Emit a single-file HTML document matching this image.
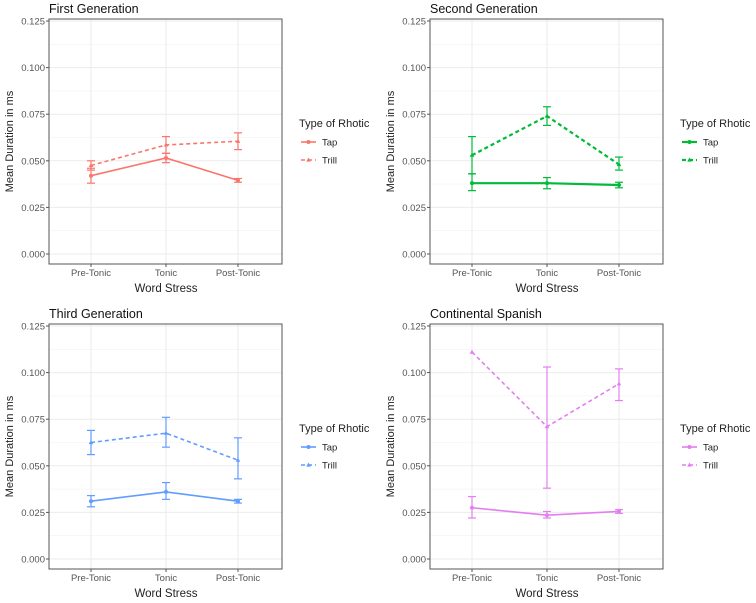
<!DOCTYPE html>
<html><head><meta charset="utf-8"><style>
body{margin:0;background:#fff;width:756px;height:598px;overflow:hidden}
svg{font-family:"Liberation Sans",sans-serif}
</style></head><body>
<svg id="s" width="756" height="598" xmlns="http://www.w3.org/2000/svg"></svg>
<script>
const panels=[
 {x:49,y:0,title:"First Generation",c:"#F8766D",w:1.6,
  tap:[[.042,.038,.046],[.0515,.049,.054],[.0395,.0385,.0405]],
  trill:[[.0475,.045,.050],[.0585,.054,.063],[.0605,.056,.065]]},
 {x:430,y:0,title:"Second Generation",c:"#00BA38",w:2.2,
  tap:[[.038,.034,.043],[.038,.035,.041],[.037,.0355,.0385]],
  trill:[[.053,.043,.063],[.074,.069,.079],[.048,.045,.052]]},
 {x:49,y:305,title:"Third Generation",c:"#619CFF",w:1.6,
  tap:[[.031,.028,.034],[.036,.032,.041],[.031,.030,.032]],
  trill:[[.0625,.056,.069],[.0675,.060,.076],[.053,.043,.065]]},
 {x:430,y:305,title:"Continental Spanish",c:"#E37EF0",w:1.6,
  tap:[[.0275,.022,.0335],[.0235,.022,.0255],[.0255,.0245,.0265]],
  trill:[[.111,.111,.111],[.071,.038,.103],[.094,.085,.102]]}
];
let h="";
for(const p of panels){
 const L=p.x,R=p.x+233,T=p.y+19,B=p.y+264;
 const Y=v=>p.y+254-v/0.125*233;
 const X=[L+42,L+117,L+189];
 // grid
 for(let i=0;i<5;i++){const yy=Y(i*0.025+0.0125);h+=`<line x1="${L}" x2="${R}" y1="${yy}" y2="${yy}" stroke="#f2f2f2" stroke-width="0.6"/>`;}
 for(let i=0;i<6;i++){const yy=Y(i*0.025);h+=`<line x1="${L}" x2="${R}" y1="${yy}" y2="${yy}" stroke="#ebebeb" stroke-width="1"/>`;
  h+=`<text x="${L-4}" y="${yy+3.5}" font-size="9.5" fill="#555" text-anchor="end">${(i*0.025).toFixed(3)}</text>`;
  h+=`<line x1="${L-3}" x2="${L}" y1="${yy}" y2="${yy}" stroke="#555"/>`;}
 const labs=["Pre-Tonic","Tonic","Post-Tonic"];
 X.forEach((xx,i)=>{h+=`<line x1="${xx}" x2="${xx}" y1="${T}" y2="${B}" stroke="#ebebeb"/>`;
  h+=`<line x1="${xx}" x2="${xx}" y1="${B}" y2="${B+3}" stroke="#555"/>`;
  h+=`<text x="${xx}" y="${B+12}" font-size="9.5" fill="#555" text-anchor="middle">${labs[i]}</text>`;});
 h+=`<rect x="${L}" y="${T}" width="233" height="245" fill="none" stroke="#555" stroke-width="1"/>`;
 h+=`<text x="${L}" y="${p.y+13}" font-size="12.5" fill="#111">${p.title}</text>`;
 h+=`<text x="${L+117}" y="${B+28}" font-size="11.5" fill="#222" text-anchor="middle">Word Stress</text>`;
 h+=`<text transform="translate(${L-36},${(T+B)/2}) rotate(-90)" font-size="11" fill="#222" text-anchor="middle">Mean Duration in ms</text>`;
 for(const [k,d] of [["tap",""],["trill","4,3"]]){
  const s=p[k];
  h+=`<polyline points="${s.map((v,i)=>X[i]+","+Y(v[0])).join(" ")}" fill="none" stroke="${p.c}" stroke-width="${p.w}" ${d?`stroke-dasharray="${d}"`:""}/>`;
  s.forEach((v,i)=>{if(v[1]!=v[2]){h+=`<g stroke="${p.c}" stroke-width="1.2"><line x1="${X[i]}" x2="${X[i]}" y1="${Y(v[1])}" y2="${Y(v[2])}"/><line x1="${X[i]-4}" x2="${X[i]+4}" y1="${Y(v[1])}" y2="${Y(v[1])}"/><line x1="${X[i]-4}" x2="${X[i]+4}" y1="${Y(v[2])}" y2="${Y(v[2])}"/></g>`;}
   h+= k=="tap"?`<circle cx="${X[i]}" cy="${Y(v[0])}" r="2" fill="${p.c}"/>`:`<polygon points="${X[i]},${Y(v[0])-2.5} ${X[i]-2.3},${Y(v[0])+1.6} ${X[i]+2.3},${Y(v[0])+1.6}" fill="${p.c}"/>`;});
 }
 const lx=R+17,ly=p.y+127;
 h+=`<text x="${lx}" y="${ly}" font-size="11" fill="#222">Type of Rhotic</text>`;
 h+=`<line x1="${lx+2}" x2="${lx+17}" y1="${ly+15}" y2="${ly+15}" stroke="${p.c}" stroke-width="${p.w}"/><circle cx="${lx+9.5}" cy="${ly+15}" r="2" fill="${p.c}"/>`;
 h+=`<text x="${lx+23}" y="${ly+18.5}" font-size="9.5" fill="#222">Tap</text>`;
 h+=`<line x1="${lx+2}" x2="${lx+17}" y1="${ly+33}" y2="${ly+33}" stroke="${p.c}" stroke-width="${p.w}" stroke-dasharray="4,3"/><polygon points="${lx+9.5},${ly+30.5} ${lx+7.2},${ly+34.6} ${lx+11.8},${ly+34.6}" fill="${p.c}"/>`;
 h+=`<text x="${lx+23}" y="${ly+36.5}" font-size="9.5" fill="#222">Trill</text>`;
}
document.getElementById("s").innerHTML=h;
</script>
</body></html>
